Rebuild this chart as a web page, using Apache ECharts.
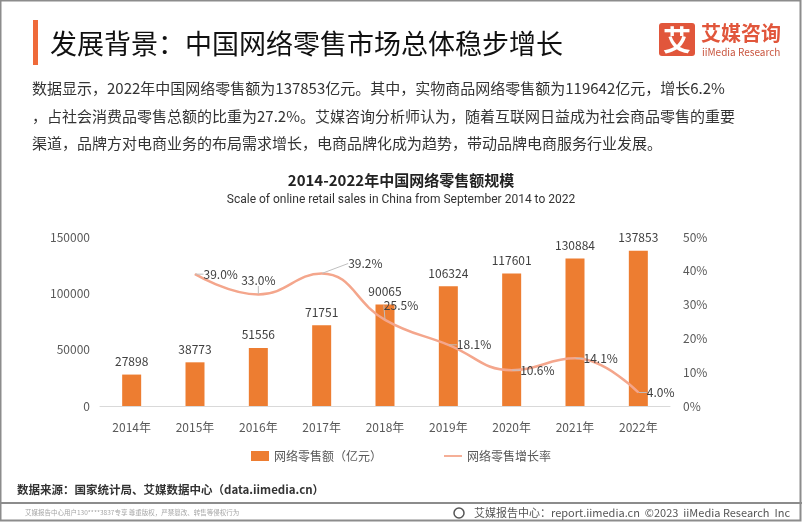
<!DOCTYPE html>
<html><head><meta charset="utf-8">
<script src="https://cdn.jsdelivr.net/npm/echarts@6/dist/echarts.min.js"></script>
<style>html,body{margin:0;padding:0;background:#fff}#c{width:802px;height:522px}</style>
</head><body><div id="c"></div>
<script>
// ---- data ----
const years = ['2014年','2015年','2016年','2017年','2018年','2019年','2020年','2021年','2022年'];
const salesValues = [27898, 38773, 51556, 71751, 90065, 106324, 117601, 130884, 137853];
const growthRates = [null, 39.0, 33.0, 39.2, 25.5, 18.1, 10.6, 14.1, 4.0];
const salesAxis = { min: 0, max: 150000, interval: 50000 };
const rateAxis = { min: 0, max: 50, interval: 10 };
const seriesNames = ['网络零售额（亿元）', '网络零售增长率'];

const headerTitle = '发展背景：中国网络零售市场总体稳步增长';
const paragraphLines = [
  '数据显示，2022年中国网络零售额为137853亿元。其中，实物商品网络零售额为119642亿元，增长6.2%',
  '，占社会消费品零售总额的比重为27.2%。艾媒咨询分析师认为，随着互联网日益成为社会商品零售的重要',
  '渠道，品牌方对电商业务的布局需求增长，电商品牌化成为趋势，带动品牌电商服务行业发展。'
];
const chartTitle = '2014-2022年中国网络零售额规模';
const chartSubtitle = 'Scale of online retail sales in China from September 2014 to 2022';
const sourceText = '数据来源：国家统计局、艾媒数据中心（data.iimedia.cn）';
const footerLeft = '艾媒报告中心用户130****3837专享 尊重版权，严禁篡改、转售等侵权行为';
const footerRight = '艾媒报告中心：report.iimedia.cn  ©2023  iiMedia Research  Inc';

// ---- label styling (not data) ----
const rateLabelPos = [null, 'right', 'top', 'right', 'top', 'right', 'right', 'right', 'right'];
const rateLabelShift = [[0,0],[0,0],[0,0],[18,-10],[16,0],[0,0],[0,0],[0,0],[0,0]];

const FONT = '"Noto Sans CJK SC", "Noto Sans", sans-serif';
const ORANGE = '#ED7D31';
const SALMON = '#F4A68C';
const LOGO = '#E1563B';

const chart = echarts.init(document.getElementById('c'), null, { renderer: 'canvas' });

const rateData = growthRates.map((v, i) => ({
  value: v,
  label: { position: rateLabelPos[i] || 'right' }
}));

chart.setOption({
  animation: false,
  textStyle: { fontFamily: FONT },
  grid: { left: 100, right: 132, top: 237, bottom: 116 },
  legend: {
    left: 'center', top: 445,
    itemWidth: 18, itemHeight: 10, itemGap: 62,
    textStyle: { fontSize: 12, color: '#595959', fontFamily: FONT },
    data: [
      { name: seriesNames[0], icon: 'rect' },
      { name: seriesNames[1], icon: 'path://M0,0H20V2H0Z' }
    ]
  },
  xAxis: {
    type: 'category', data: years,
    axisLine: { lineStyle: { color: '#D9D9D9', width: 1 } },
    axisTick: { show: false },
    axisLabel: { color: '#595959', fontSize: 12, margin: 15 }
  },
  yAxis: [
    {
      type: 'value', min: salesAxis.min, max: salesAxis.max, interval: salesAxis.interval,
      axisLine: { show: false }, axisTick: { show: false }, splitLine: { show: false },
      axisLabel: { color: '#595959', fontSize: 12, margin: 10, formatter: v => String(v) }
    },
    {
      type: 'value', min: rateAxis.min, max: rateAxis.max, interval: rateAxis.interval,
      axisLine: { show: false }, axisTick: { show: false }, splitLine: { show: false },
      axisLabel: { color: '#595959', fontSize: 12, margin: 13, formatter: '{value}%' }
    }
  ],
  series: [
    {
      name: seriesNames[0], type: 'bar', data: salesValues, barWidth: 19,
      itemStyle: { color: ORANGE },
      label: { show: true, position: 'top', distance: 7, color: '#404040', fontSize: 12 }
    },
    {
      name: seriesNames[1], type: 'line', yAxisIndex: 1, data: rateData,
      smooth: 0.45, symbol: 'circle', symbolSize: 1, showSymbol: true,
      lineStyle: { color: SALMON, width: 2.5 },
      itemStyle: { color: SALMON },
      label: { show: true, distance: 8, color: '#404040', fontSize: 12,
        formatter: p => p.value.toFixed(1) + '%' },
      labelLine: { show: true, lineStyle: { color: '#BFBFBF', width: 1 } },
      labelLayout: p => ({ dx: rateLabelShift[p.dataIndex][0], dy: rateLabelShift[p.dataIndex][1] })
    }
  ],
  graphic: [
    // frame
    { type: 'rect', shape: { x: 0.5, y: 0.5, width: 800, height: 520 }, style: { fill: 'none', stroke: '#8C8C8C', lineWidth: 2 }, silent: true },
    { type: 'line', shape: { x1: 0, y1: 503, x2: 802, y2: 503 }, style: { stroke: '#8C8C8C', lineWidth: 2 } },
    // header
    { type: 'rect', shape: { x: 33, y: 20, width: 5, height: 45 }, style: { fill: '#EF6A3A' } },
    { type: 'text', style: { text: headerTitle, x: 50, y: 44, verticalAlign: 'middle', font: '27px ' + FONT, fill: '#111' } },
    // logo
    { type: 'rect', shape: { x: 659, y: 23, width: 36, height: 33, r: 3 }, style: { fill: LOGO } },
    { type: 'text', style: { text: '艾', x: 677, y: 40, align: 'center', verticalAlign: 'middle', font: 'bold 28px ' + FONT, fill: '#fff' } },
    { type: 'text', style: { text: '艾媒咨询', x: 701, y: 33, verticalAlign: 'middle', font: 'bold 20px ' + FONT, fill: LOGO } },
    { type: 'text', style: { text: 'iiMedia Research', x: 702, y: 52, verticalAlign: 'middle', font: '10px ' + FONT, fill: '#C9553F' } },
    // paragraph
    { type: 'text', style: { text: paragraphLines[0], x: 32, y: 88, verticalAlign: 'middle', font: '15px ' + FONT, fill: '#333' } },
    { type: 'text', style: { text: paragraphLines[1], x: 32, y: 116, verticalAlign: 'middle', font: '15px ' + FONT, fill: '#333' } },
    { type: 'text', style: { text: paragraphLines[2], x: 32, y: 143, verticalAlign: 'middle', font: '15px ' + FONT, fill: '#333' } },
    // chart titles
    { type: 'text', style: { text: chartTitle, x: 401, y: 180, align: 'center', verticalAlign: 'middle', font: 'bold 15px ' + FONT, fill: '#222' } },
    { type: 'text', style: { text: chartSubtitle, x: 401, y: 200, align: 'center', verticalAlign: 'middle', font: '12px "Liberation Sans Narrow", Roboto, sans-serif', fill: '#333' } },
    // footer
    { type: 'text', style: { text: sourceText, x: 17, y: 490, verticalAlign: 'middle', font: 'bold 11.5px ' + FONT, fill: '#333' } },
    { type: 'text', style: { text: footerLeft, x: 25, y: 513, verticalAlign: 'middle', font: '6.5px ' + FONT, fill: '#A6A6A6' } },
    { type: 'circle', shape: { cx: 459, cy: 513, r: 5 }, style: { fill: 'none', stroke: '#555', lineWidth: 1.5 } },
    { type: 'text', style: { text: footerRight, x: 790, y: 513, align: 'right', verticalAlign: 'middle', font: '11px ' + FONT, fill: '#555' } }
  ]
});
</script></body></html>
